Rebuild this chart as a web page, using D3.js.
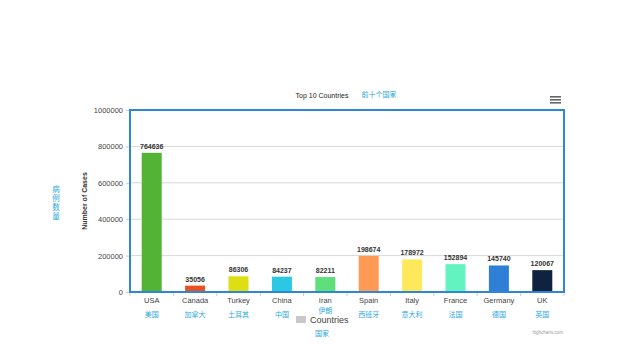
<!DOCTYPE html>
<html><head><meta charset="utf-8">
<script src="https://cdn.jsdelivr.net/npm/d3@7/dist/d3.min.js"></script>
<style>body{margin:0;background:#fff}svg{display:block}</style>
</head><body>
<script>
const countries = ["USA","Canada","Turkey","China","Iran","Spain","Italy","France","Germany","UK"];
const countriesZh = ["美国","加拿大","土耳其","中国","伊朗","西班牙","意大利","法国","德国","英国"];
const cases = [764636,35056,86306,84237,82211,198674,178972,152894,145740,120067];
const colors = ["#52b335","#e8521e","#dede14","#2bc8e4","#5de07a","#ff9a55","#ffe85c","#62f3c1","#2f7fd6","#0f2340"];
const yTicks = [0,200000,400000,600000,800000,1000000];
const yTitleZh = "病例数量";

const W=640,H=360;
const svg=d3.select("body").append("svg").attr("width",W).attr("height",H);
const m={l:130,r:564,t:110,b:292};
const x=d3.scaleBand().domain(countries).range([m.l,m.r]);
const y=d3.scaleLinear().domain([0,1000000]).range([m.b,m.t]);
const font="Liberation Sans, Arial, sans-serif";
const cjk="'Noto Sans CJK SC', sans-serif";

// gridlines
svg.append("g").selectAll("line").data(yTicks).join("line")
 .attr("x1",m.l).attr("x2",m.r).attr("y1",d=>y(d)).attr("y2",d=>y(d))
 .attr("stroke","#d8d8d8").attr("stroke-width",1);

// y axis
const ya=svg.append("g").attr("transform",`translate(${m.l},0)`)
 .call(d3.axisLeft(y).tickValues(yTicks).tickSize(4).tickPadding(3).tickFormat(d3.format("d")));
ya.select(".domain").remove();
ya.selectAll("line").attr("stroke","#ccc");
ya.selectAll("text").attr("font-family",font).attr("font-size",7.5).attr("fill","#444");

// x axis
const xa=svg.append("g").attr("transform",`translate(0,${m.b})`)
 .call(d3.axisBottom(x).tickSize(0).tickPadding(6));
xa.select(".domain").remove();
xa.selectAll("text").attr("font-family",font).attr("font-size",7.5).attr("fill","#444");
// boundary ticks
svg.append("g").selectAll("line").data(d3.range(countries.length+1)).join("line")
 .attr("x1",i=>m.l+i*x.step()).attr("x2",i=>m.l+i*x.step())
 .attr("y1",m.b).attr("y2",m.b+4).attr("stroke","#ccc");

// bars
const bw=20;
svg.append("g").selectAll("rect").data(countries).join("rect")
 .attr("x",(d)=>x(d)+x.bandwidth()/2-bw/2).attr("width",bw)
 .attr("y",(d,i)=>y(cases[i])).attr("height",(d,i)=>m.b-y(cases[i]))
 .attr("fill",(d,i)=>colors[i]);
// value labels
svg.append("g").selectAll("text").data(countries).join("text")
 .attr("x",d=>x(d)+x.bandwidth()/2).attr("y",(d,i)=>y(cases[i])-4)
 .attr("text-anchor","middle").attr("font-family",font).attr("font-size",7)
 .attr("font-weight","bold").attr("fill","#333").text((d,i)=>cases[i]);

// plot border
svg.append("rect").attr("x",m.l).attr("y",m.t).attr("width",m.r-m.l).attr("height",m.b-m.t)
 .attr("fill","none").attr("stroke","#2e86d4").attr("stroke-width",2);

// chinese category labels
svg.append("g").selectAll("text").data(countries).join("text")
 .attr("x",d=>x(d)+x.bandwidth()/2).attr("y",(d,i)=>i===4?313:317)
 .attr("text-anchor","middle").attr("font-family",cjk).attr("font-size",7)
 .attr("fill","#29a8e0").text((d,i)=>countriesZh[i]);

// title
svg.append("text").attr("x",322).attr("y",98).attr("text-anchor","middle")
 .attr("font-family",font).attr("font-size",7).attr("fill","#222").text("Top 10 Countries");
svg.append("text").attr("x",379).attr("y",97).attr("text-anchor","middle")
 .attr("font-family",cjk).attr("font-size",7).attr("fill","#29a8e0").text("前十个国家");

// y titles
svg.append("text").attr("transform","translate(87,201) rotate(-90)").attr("text-anchor","middle")
 .attr("font-family",font).attr("font-size",7).attr("font-weight","bold").attr("fill","#333").text("Number of Cases");
svg.append("text").attr("x",56).attr("y",185)
 .style("writing-mode","vertical-rl").style("letter-spacing","1.5px")
 .attr("font-family",cjk).attr("font-size",7.5).attr("fill","#29a8e0").text(yTitleZh);

// legend
svg.append("rect").attr("x",296).attr("y",316).attr("width",10).attr("height",7).attr("fill","#c8c8c8");
svg.append("text").attr("x",310).attr("y",323).attr("font-family",font).attr("font-size",9)
 .attr("fill","#444").text("Countries");
svg.append("text").attr("x",322).attr("y",336).attr("text-anchor","middle")
 .attr("font-family",cjk).attr("font-size",7).attr("fill","#29a8e0").text("国家");

// credit
svg.append("text").attr("x",563).attr("y",334).attr("text-anchor","end")
 .attr("font-family",font).attr("font-size",4.5).attr("fill","#999").text("highcharts.com");

// menu icon
svg.append("g").selectAll("rect").data([0,1,2]).join("rect")
 .attr("x",550).attr("y",d=>96+d*3).attr("width",11).attr("height",1.6).attr("fill","#666");
</script>
</body></html>
